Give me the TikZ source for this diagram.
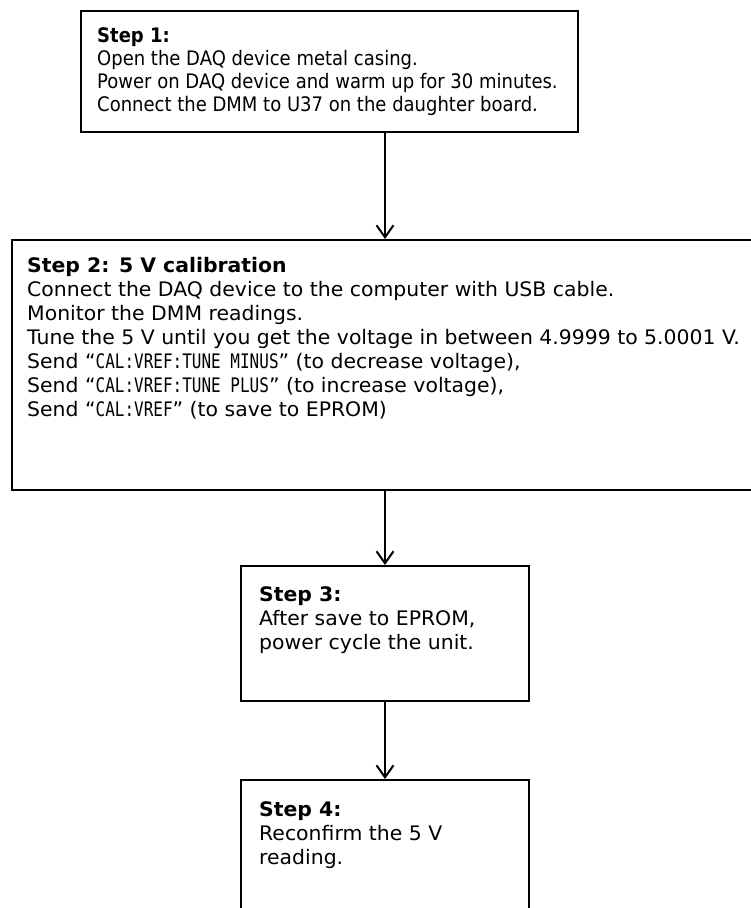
\documentclass[tikz,border=0pt]{standalone}
\usepackage{fontspec}
\setmainfont{DejaVu Sans}
\newfontfamily\widesans{DejaVu Sans}[FakeStretch=1.02]
\newfontfamily\narrowsans{DejaVu Sans}[FakeStretch=0.9]
\newfontfamily\cmdmono{DejaVu Sans Mono}[FakeStretch=0.8]
\newcommand{\cmd}[1]{{\fontsize{20}{24}\cmdmono #1}}
\usetikzlibrary{arrows.meta}
\begin{document}
\begin{tikzpicture}[x=1pt,y=-1pt]
                \tikzstyle{stepbox}=[draw,line width=2pt,anchor=north west,inner sep=0pt]
                \tikzstyle{steptext}=[anchor=north west,inner sep=0pt,align=left,font=\fontsize{20}{24}\widesans]
                \tikzstyle{flow}=[line width=2pt,-{Straight Barb[length=12pt,width=17pt]}]
                \clip (0,0) rectangle (751,908);
                \node[stepbox,minimum width=497pt,minimum height=121pt] (s1) at (80,10) {};
                \node[stepbox,minimum width=760pt,minimum height=250pt] (s2) at (11,239) {};
                \node[stepbox,minimum width=288pt,minimum height=135pt] (s3) at (240,565) {};
                \node[stepbox,minimum width=288pt,minimum height=180pt] (s4) at (240,779) {};
                % box texts
                \node[steptext,font=\fontsize{20}{23}\narrowsans] (t1) at (97,27) {\textbf{Step 1:}\\
                    Open the DAQ device metal casing.\\
                    Power on DAQ device and warm up for 30 minutes.\\
                    Connect the DMM to U37 on the daughter board.};
                \node[steptext] (t2) at (27,257) {\textbf{Step 2: 5 V calibration}\\
                    Connect the DAQ device to the computer with USB cable.\\
                    Monitor the DMM readings.\\
                    Tune the 5 V until you get the voltage in between 4.9999 to 5.0001 V.\\
                    Send “\cmd{CAL:VREF:TUNE MINUS}” (to decrease voltage),\\
                    Send “\cmd{CAL:VREF:TUNE PLUS}” (to increase voltage),\\
                    Send “\cmd{CAL:VREF}” (to save to EPROM)};
                \node[steptext] (t3) at (259,586) {\textbf{Step 3:}\\
                    After save to EPROM,\\
                    power cycle the unit.};
                \node[steptext] (t4) at (259,801) {\textbf{Step 4:}\\
                    Reconfirm the 5 V\\
                    reading.};
                \draw[flow] (s1.south -| s3.north) -- (s2.north -| s3.north);
                \draw[flow] (s2.south -| s3.north) -- (s3.north);
                \draw[flow] (s3.south) -- (s4.north);
\end{tikzpicture}
\end{document}
